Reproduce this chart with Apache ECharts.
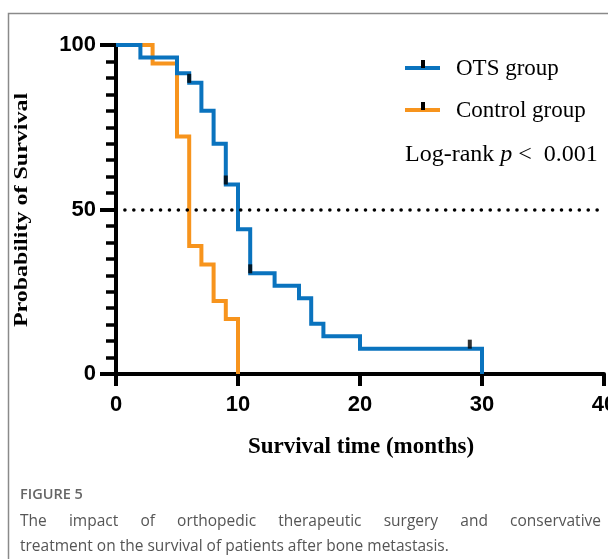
<!DOCTYPE html>
<html>
<head>
<meta charset="utf-8">
<script src="https://cdn.jsdelivr.net/npm/echarts@6/dist/echarts.min.js"></script>
<style>
  html, body { margin: 0; padding: 0; background: #fff; overflow: hidden; }
  #chart { width: 608px; height: 559px; position: absolute; left: 0; top: 0; }
  #caption { position: absolute; left: 20px; top: 483px; width: 581px; font-family: "Open Sans", sans-serif; color: #555; }
  #caption .fig { font-size: 14.5px; font-weight: 600; color: #666; line-height: 22px; margin-bottom: 3px; }
  #caption .txt { font-size: 15.5px; line-height: 25px; white-space: nowrap; }
  #caption .just { text-align: justify; text-align-last: justify; }
</style>
</head>
<body>
<div id="chart"></div>
<div id="caption">
  <div class="fig">FIGURE 5</div>
  <div class="txt just">The impact of orthopedic therapeutic surgery and conservative</div>
  <div class="txt">treatment on the survival of patients after bone metastasis.</div>
</div>
<script>
// ---- data ----
const otsTimes   = [0, 2, 5, 6, 7, 8, 9, 10, 11, 13, 15, 16, 17, 20, 30];
const otsValues  = [100, 96.2, 91.4, 88.5, 80.0, 70.0, 57.6, 44.0, 30.6, 26.8, 23.0, 15.3, 11.5, 7.7, 0];
const ctrlTimes  = [0, 3, 5, 6, 7, 8, 9, 10];
const ctrlValues = [100, 94.4, 72.2, 38.9, 33.3, 22.2, 16.7, 0];
const otsCensorTimes  = [6, 9, 11, 29];
const otsCensorValues = [88.5, 57.6, 30.6, 7.7];
const xTicks = [0, 10, 20, 30, 40];
const yTicks = [0, 50, 100];
const medianLine = 50;
const seriesNames = ['OTS group', 'Control group'];

const BLUE = '#0a73be';
const ORANGE = '#f7941d';

const zip = (a, b) => a.map((v, i) => [v, b[i]]);

const chart = echarts.init(document.getElementById('chart'), null, { renderer: 'canvas' });

const axisFont = { fontFamily: '"Liberation Sans", Arial, sans-serif', fontWeight: 'bold', fontSize: 22, color: '#000' };
const serif = '"Liberation Serif", "Times New Roman", serif';

chart.setOption({
  animation: false,
  backgroundColor: '#fff',
  grid: { left: 116, right: 4, top: 45, bottom: 185, containLabel: false, outerBoundsMode: 'none' },
  xAxis: {
    type: 'value', min: xTicks[0], max: xTicks[xTicks.length - 1], interval: 10,
    axisLine: { show: true, onZero: false, lineStyle: { color: '#000', width: 4 } },
    axisTick: { show: true, length: 12, lineStyle: { color: '#000', width: 4 } },
    axisLabel: Object.assign({ margin: 20, showMaxLabel: true }, axisFont),
    splitLine: { show: false }
  },
  yAxis: {
    type: 'value', min: yTicks[0], max: yTicks[yTicks.length - 1], interval: 50,
    axisLine: { show: true, onZero: false, lineStyle: { color: '#000', width: 4 } },
    axisTick: { show: true, length: 16, lineStyle: { color: '#000', width: 4 } },
    minorTick: { show: true, splitNumber: 10, length: 10, lineStyle: { color: '#000', width: 3.5 } },
    axisLabel: Object.assign({ margin: 20 }, axisFont),
    splitLine: { show: false }
  },
  series: [
    {
      name: seriesNames[1], type: 'line', step: 'end', symbol: 'none', z: 2,
      lineStyle: { color: ORANGE, width: 4, join: 'miter' },
      data: zip(ctrlTimes, ctrlValues)
    },
    {
      name: seriesNames[0], type: 'line', step: 'end', symbol: 'none', z: 3,
      lineStyle: { color: BLUE, width: 4, join: 'miter' },
      data: zip(otsTimes, otsValues),
      markLine: {
        silent: true, symbol: 'none', label: { show: false },
        lineStyle: { color: '#000', width: 3.6, type: [0.01, 8.9], cap: 'round' },
        data: [{ yAxis: medianLine }]
      }
    },
    {
      name: 'OTS censored', type: 'scatter', z: 4,
      symbol: 'rect', symbolSize: [4, 9], symbolOffset: [0, -4.5],
      itemStyle: { color: '#000' },
      data: zip(otsCensorTimes, otsCensorValues)
    }
  ],
  graphic: [
    { type: 'rect', shape: { x: 8.5, y: 13.5, width: 800, height: 800 }, style: { fill: 'none', stroke: '#8a8a8a', lineWidth: 1.5 }, z: 0 },
    { type: 'text', x: 22, y: 210, rotation: Math.PI / 2, scaleY: 0.8,
      style: { text: 'Probability of Survival', font: 'bold 24px ' + serif, fill: '#000', textAlign: 'center', textVerticalAlign: 'middle' } },
    { type: 'text', x: 361, y: 447,
      style: { text: 'Survival time (months)', font: 'bold 23px ' + serif, fill: '#000', textAlign: 'center', textVerticalAlign: 'middle' } },
    { type: 'line', shape: { x1: 405, y1: 68, x2: 440, y2: 68 }, style: { stroke: BLUE, lineWidth: 4 } },
    { type: 'rect', shape: { x: 421, y: 60, width: 4, height: 8 }, style: { fill: '#000' } },
    { type: 'text', x: 456, y: 69, style: { text: seriesNames[0], font: '23px ' + serif, fill: '#000', textVerticalAlign: 'middle' } },
    { type: 'line', shape: { x1: 405, y1: 110, x2: 440, y2: 110 }, style: { stroke: ORANGE, lineWidth: 4 } },
    { type: 'rect', shape: { x: 421, y: 102, width: 4, height: 8 }, style: { fill: '#000' } },
    { type: 'text', x: 456, y: 111, style: { text: seriesNames[1], font: '23px ' + serif, fill: '#000', textVerticalAlign: 'middle' } },
    { type: 'text', x: 405, y: 155,
      style: {
        text: '{a|Log-rank }{i|p}{a| <  0.001}',
        textVerticalAlign: 'middle',
        rich: {
          a: { fontFamily: serif, fontSize: 24, fill: '#000' },
          i: { fontFamily: serif, fontSize: 24, fontStyle: 'italic', fill: '#000' }
        }
      } }
  ]
});
</script>
</body>
</html>
